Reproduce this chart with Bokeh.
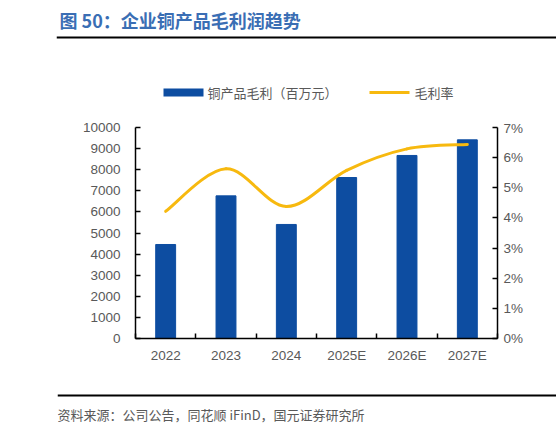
import numpy as np
from bokeh.plotting import figure
from bokeh.layouts import column
from bokeh.models import (Range1d, LinearAxis, FixedTicker, SingleIntervalTicker,
                          PrintfTickFormatter, Span, ColumnDataSource)
from bokeh.core.properties import value
from bokeh.embed import file_html
from bokeh.resources import INLINE

# data
years = ["2022", "2023", "2024", "2025E", "2026E", "2027E"]
profit = [4455, 6760, 5405, 7630, 8675, 9415]   # 铜产品毛利（百万元）
margin = [4.22, 5.63, 4.38, 5.58, 6.29, 6.44]   # 毛利率 (%)

title_text = "图 50：企业铜产品毛利润趋势"
source_text = "资料来源：公司公告，同花顺 iFinD，国元证券研究所"
bar_label = "铜产品毛利（百万元）"
line_label = "毛利率"

BLUE = "#0D4DA1"
GOLD = "#F7B90F"
GREY = "#595959"
CJK = value("Noto Sans CJK SC")
LATIN = "Liberation Sans"
W = 556


def blank(height, left, xmax):
    f = figure(width=W, height=height, x_range=Range1d(0, xmax), y_range=Range1d(0, height),
               min_border_left=left, min_border_right=0, min_border_top=0, min_border_bottom=0,
               x_axis_location=None, y_axis_location=None, output_backend="svg",
               toolbar_location=None, outline_line_color=None, frame_align=False)
    f.grid.visible = False
    return f


# ---- header: title, rule and legend
head = blank(120, 56, W - 56)
head.text(x=[3], y=[100.5], text=[title_text], text_font=CJK, text_font_size="18px",
          text_font_style="bold", text_color="#3A6EB4", text_baseline="middle")
head.add_layout(Span(location=83, dimension="width", line_color="black", line_width=2))
# legend swatches
head.quad(left=[107], right=[147], bottom=[24], top=[32], fill_color=BLUE, line_color=None)
head.segment(x0=[313], y0=[28], x1=[353], y1=[28], line_color=GOLD, line_width=3)
head.text(x=[151, 358], y=[28, 28], text=[bar_label, line_label], text_font=CJK,
          text_font_size="13px", text_color=GREY, text_baseline="middle")

# ---- main chart
x = np.arange(len(years))
p = figure(width=W, height=260, x_range=Range1d(-0.5, len(years) - 0.5),
           y_range=Range1d(0, 10000),
           min_border_left=135, min_border_right=W - 497, min_border_top=7, min_border_bottom=42,
           output_backend="svg", toolbar_location=None, outline_line_color=None,
           frame_align=False)
p.extra_y_ranges = {"pct": Range1d(0, 7)}
p.grid.visible = False

p.vbar(x=x, top=profit, width=0.33, fill_color=BLUE, line_color=BLUE)

# smoothed margin line (catmull-rom style bezier through the data points)
m = np.array(margin)
xp = np.concatenate([[x[0]], x, [x[-1]]]).astype(float)
yp = np.concatenate([[m[0]], m, [m[-1]]])
seg = ColumnDataSource(dict(
    x0=x[:-1], y0=m[:-1], x1=x[1:], y1=m[1:],
    cx0=xp[1:-2] + (xp[2:-1] - xp[:-3]) / 6, cy0=yp[1:-2] + (yp[2:-1] - yp[:-3]) / 6,
    cx1=xp[2:-1] - (xp[3:] - xp[1:-2]) / 6, cy1=yp[2:-1] - (yp[3:] - yp[1:-2]) / 6,
))
p.bezier(x0="x0", y0="y0", x1="x1", y1="y1", cx0="cx0", cy0="cy0", cx1="cx1", cy1="cy1",
         source=seg, y_range_name="pct", line_color=GOLD, line_width=3, line_cap="round")

# axes
xa = p.xaxis[0]
xa.ticker = FixedTicker(ticks=list(x), minor_ticks=list(np.arange(len(years) + 1) - 0.5))
xa.major_label_overrides = {int(i): y for i, y in zip(x, years)}
xa.major_tick_in = 0
xa.major_tick_out = 0
xa.minor_tick_in = 5
xa.minor_tick_out = 0
xa.major_label_standoff = 9

ya = p.yaxis[0]
ya.ticker = SingleIntervalTicker(interval=1000)
ya.major_tick_in = 5
ya.major_tick_out = 0
ya.minor_tick_line_color = None
ya.major_label_standoff = 11

ra = LinearAxis(y_range_name="pct", ticker=SingleIntervalTicker(interval=1),
                formatter=PrintfTickFormatter(format="%d%%"))
ra.major_tick_in = 5
ra.major_tick_out = 0
ra.minor_tick_line_color = None
ra.major_label_standoff = 2
p.add_layout(ra, "right")

for ax in (xa, ya, ra):
    ax.axis_line_color = "black"
    ax.axis_line_width = 1.5
    ax.major_tick_line_color = "black"
    ax.major_tick_line_width = 1.5
    ax.minor_tick_line_width = 1.5
    ax.major_label_text_font = LATIN
    ax.major_label_text_font_size = "13.5px"
    ax.major_label_text_color = GREY
xa.minor_tick_line_color = "black"

# ---- footer: rule + source
foot = blank(44, 57, W - 57)
foot.add_layout(Span(location=29, dimension="width", line_color="black", line_width=2))
foot.text(x=[0], y=[10], text=[source_text], text_font=CJK, text_font_size="13px",
          text_color=GREY, text_baseline="middle")

layout = column(head, p, foot, spacing=0)
open("out.html", "w").write(file_html(layout, INLINE))
